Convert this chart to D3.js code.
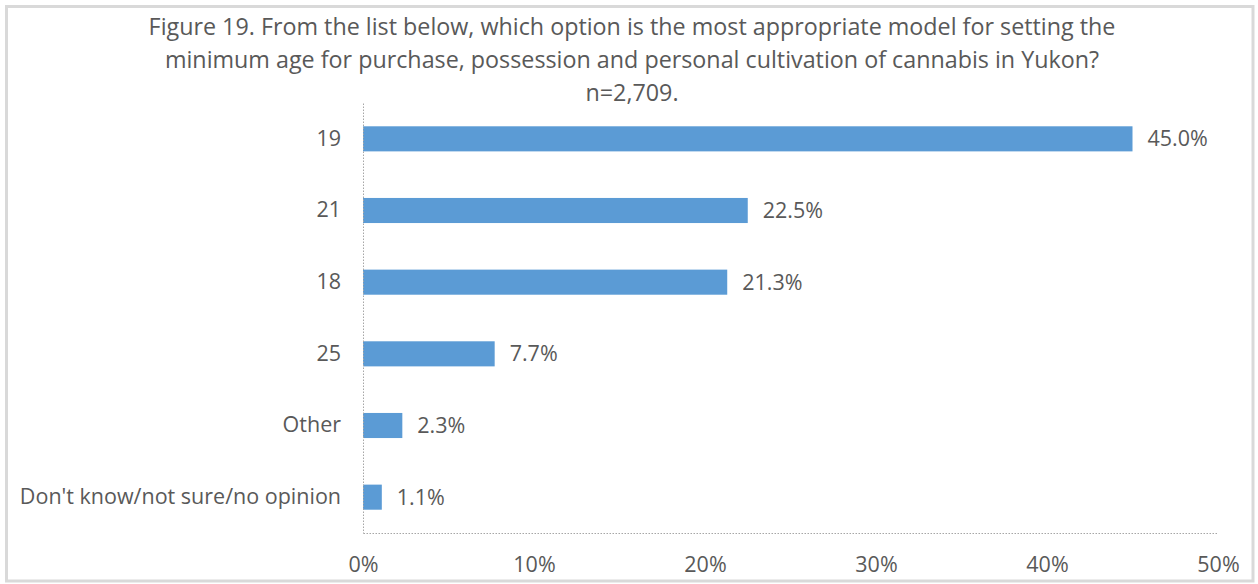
<!DOCTYPE html>
<html>
<head>
<meta charset="utf-8">
<script src="https://cdn.jsdelivr.net/npm/d3@7"></script>
<style>
  html, body { margin: 0; padding: 0; background: #fff; }
  svg { display: block; font-family: "Open Sans", sans-serif; }
</style>
</head>
<body>
<svg id="chart" width="1258" height="584"></svg>
<script>
// Survey responses: preferred minimum age model
const categories = ["19", "21", "18", "25", "Other", "Don't know/not sure/no opinion"];
const shares = [45.0, 22.5, 21.3, 7.7, 2.3, 1.1];
const tickValues = [0, 10, 20, 30, 40, 50];
const titleLines = [
  "Figure 19. From the list below, which option is the most appropriate model for setting the",
  "minimum age for purchase, possession and personal cultivation of cannabis in Yukon?",
  "n=2,709."
];

const W = 1258, H = 584;
const margin = { top: 103, right: 40, bottom: 51, left: 363 };
const textColor = "#595959";
const barColor = "#5B9BD5";
const axisColor = "#a6a6a6";
const labelSize = 21.5;

const svg = d3.select("#chart");

// outer frame
svg.append("rect")
  .attr("x", 6.5).attr("y", 6.5)
  .attr("width", W - 11.5).attr("height", H - 9.5)
  .attr("fill", "#fff")
  .attr("stroke", "#d9d9d9")
  .attr("stroke-width", 3);

// title
const title = svg.append("text")
  .attr("text-anchor", "middle")
  .attr("fill", textColor)
  .attr("font-size", 23.3);
titleLines.forEach((line, i) => {
  title.append("tspan")
    .attr("x", 632)
    .attr("y", 35 + i * 33)
    .text(line);
});

const x = d3.scaleLinear().domain([0, 50]).range([margin.left, 1218]);
const y = d3.scaleBand().domain(categories)
  .range([margin.top, H - margin.bottom])
  .paddingInner(0.65).paddingOuter(0.325);

// bars
svg.append("g").selectAll("rect")
  .data(categories)
  .join("rect")
  .attr("x", x(0))
  .attr("y", d => y(d))
  .attr("width", (d, i) => x(shares[i]) - x(0))
  .attr("height", y.bandwidth())
  .attr("fill", barColor);

// value labels
svg.append("g").selectAll("text")
  .data(categories)
  .join("text")
  .attr("x", (d, i) => x(shares[i]) + 15)
  .attr("y", d => y(d) + y.bandwidth() / 2)
  .attr("dy", "0.35em")
  .attr("fill", textColor)
  .attr("font-size", labelSize)
  .text((d, i) => shares[i].toFixed(1) + "%");

// x axis
const xAxis = svg.append("g")
  .attr("transform", `translate(0,${H - margin.bottom})`)
  .call(d3.axisBottom(x).tickValues(tickValues).tickSize(0).tickPadding(24)
    .tickFormat(d => d + "%"));
xAxis.select(".domain")
  .attr("stroke", axisColor)
  .attr("stroke-dasharray", "1.5,1.5");
xAxis.selectAll("text")
  .attr("fill", textColor)
  .attr("font-size", labelSize)
  .attr("font-family", "Open Sans, sans-serif");

// y axis
const yAxis = svg.append("g")
  .attr("transform", `translate(${margin.left},0)`)
  .call(d3.axisLeft(y).tickSize(0).tickPadding(22));
yAxis.select(".domain")
  .attr("stroke", axisColor)
  .attr("stroke-dasharray", "1.5,1.5");
yAxis.selectAll("text")
  .attr("fill", textColor)
  .attr("font-size", labelSize)
  .attr("font-family", "Open Sans, sans-serif");
</script>
</body>
</html>
